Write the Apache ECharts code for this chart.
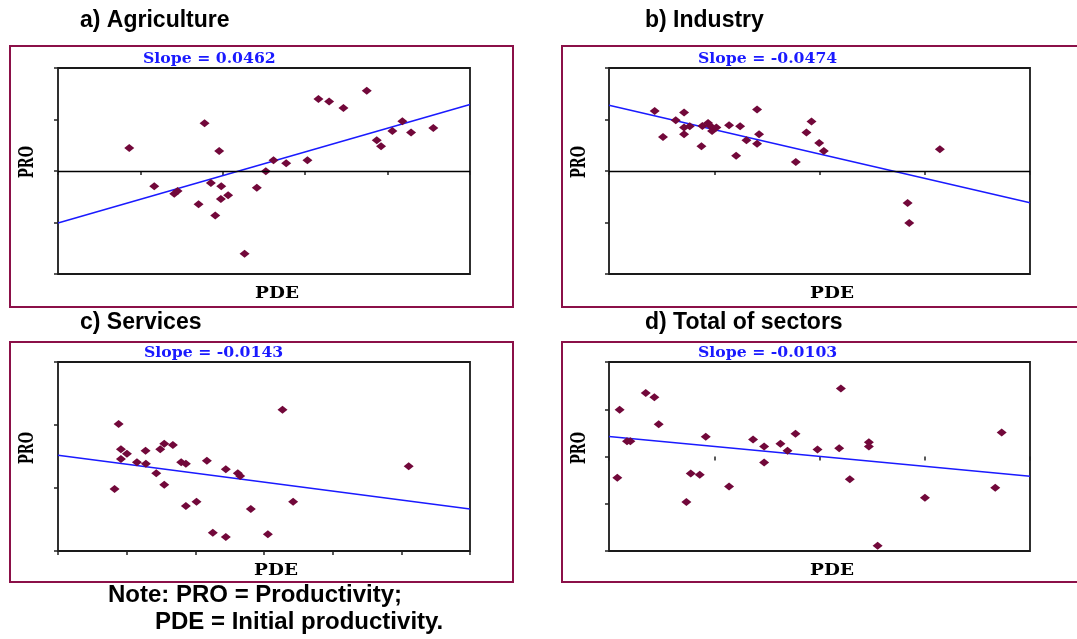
<!DOCTYPE html>
<html>
<head>
<meta charset="utf-8">
<script src="https://cdn.jsdelivr.net/npm/echarts@6/dist/echarts.min.js"></script>
<style>
html,body{margin:0;padding:0;background:#fff;}
#chart{width:1077px;height:639px;}
</style>
</head>
<body>
<div id="chart"></div>
<script>
// ---- Data (arbitrary axis units, no tick labels in the source) ----
const panelTitles = ['a) Agriculture', 'b) Industry', 'c) Services', 'd) Total of sectors'];
const slopeLabels = ['Slope = 0.0462', 'Slope = -0.0474', 'Slope = -0.0143', 'Slope = -0.0103'];
const noteLines = ['Note: PRO = Productivity;', 'PDE = Initial productivity.'];

// a) Agriculture
const agriPDE = [0.865,1.168,1.411,1.451,1.706,1.779,1.855,1.908,1.956,1.981,1.977,2.065,2.264,2.413,2.522,2.615,2.769,3.027,3.161,3.290,3.464,3.747,3.868,3.921,4.058,4.179,4.285,4.555];
const agriPRO = [0.447,-0.298,-0.441,-0.389,-0.648,0.927,-0.233,-0.862,0.389,-0.298,-0.545,-0.473,-1.608,-0.324,-0.006,0.207,0.149,0.207,1.400,1.348,1.225,1.556,0.596,0.480,0.778,0.966,0.746,0.836];
const agriTrendX = [0, 5];
const agriTrendY = [-1.011, 1.290];

// b) Industry
const indPDE = [0.434,0.513,0.634,0.713,0.713,0.713,0.767,0.878,0.887,0.941,0.957,0.979,1.020,1.141,1.208,1.246,1.306,1.407,1.407,1.426,1.775,1.876,1.924,1.997,2.041,2.837,2.853,3.144];
const indPRO = [1.167,0.661,0.985,1.134,0.843,0.713,0.869,0.480,0.875,0.934,0.882,0.778,0.843,0.888,0.298,0.869,0.596,1.193,0.531,0.713,0.175,0.746,0.960,0.545,0.389,-0.622,-1.011,0.421];
const indTrendX = [0, 4];
const indTrendY = [1.277, -0.616];

// c) Services
const servPDE = [0.824,0.883,0.917,0.917,1.004,1.150,1.275,1.280,1.431,1.489,1.547,1.547,1.673,1.794,1.862,1.862,2.017,2.168,2.255,2.444,2.444,2.619,2.653,2.808,3.056,3.269,3.424,5.107];
const servPRO = [0.984,2.016,1.614,1.460,1.545,1.407,1.593,1.386,1.233,1.614,1.704,1.053,1.683,1.407,1.386,0.714,0.783,1.434,0.291,1.296,0.222,1.233,1.190,0.667,0.265,2.243,0.783,1.344];
const servTrendX = [0, 6];
const servTrendY = [1.519, 0.667];

// d) Total of sectors
const totPDE = [0.079,0.101,0.171,0.203,0.349,0.431,0.472,0.735,0.777,0.862,0.919,1.141,1.369,1.474,1.474,1.629,1.696,1.772,1.981,2.187,2.203,2.288,2.469,2.469,2.552,3.002,3.670,3.731];
const totPRO = [-0.452,0.988,0.325,0.325,1.346,1.255,0.684,-0.963,-0.360,-0.388,0.416,-0.635,0.360,0.212,-0.127,0.268,0.120,0.480,0.148,0.176,1.439,-0.480,0.303,0.212,-1.891,-0.875,-0.663,0.508];
const totTrendX = [0, 4];
const totTrendY = [0.423, -0.416];

// axis extents per panel
const xMin = [0, 0, 0, 0];
const xMax = [5, 4, 6, 4];
const yMin = [-2, -2, 0, -2];
const yMax = [2, 2, 3, 2];
const showZeroLine = [true, true, false, false];

// ---- Layout ----
const grids = [
  {left: 58,  top: 68,  width: 412, height: 206},
  {left: 609, top: 68,  width: 421, height: 206},
  {left: 58,  top: 362, width: 412, height: 189},
  {left: 609, top: 362, width: 421, height: 189}
];
const boxes = [
  {x: 10,  y: 46,  w: 503, h: 261},
  {x: 562, y: 46,  w: 540, h: 261},
  {x: 10,  y: 342, w: 503, h: 240},
  {x: 562, y: 342, w: 540, h: 240}
];
const titlePos = [[80, 21], [645, 21], [80, 323], [645, 323]];
const slopePos = [[143, 59], [698, 59], [144, 353], [698, 353]];
const proPos = [[28, 162], [580, 162], [28, 448], [580, 448]];
const pdePos = [[277, 294], [832, 294], [276, 571], [832, 571]];

const pdeSets = [agriPDE, indPDE, servPDE, totPDE];
const proSets = [agriPRO, indPRO, servPRO, totPRO];
const trendXs = [agriTrendX, indTrendX, servTrendX, totTrendX];
const trendYs = [agriTrendY, indTrendY, servTrendY, totTrendY];

const pairs = (xs, ys) => xs.map((x, i) => [x, ys[i]]);

const option = {
  animation: false,
  backgroundColor: '#ffffff',
  grid: grids.map(g => Object.assign({show: true, borderColor: '#1a1a1a', borderWidth: 1.8, backgroundColor: 'transparent'}, g)),
  xAxis: grids.map((g, i) => ({
    gridIndex: i, type: 'value', min: xMin[i], max: xMax[i], interval: 1,
    axisLine: {show: false},
    axisTick: {show: true, length: 4, lineStyle: {color: '#222', width: 1.5}},
    axisLabel: {show: false}, splitLine: {show: false}
  })),
  yAxis: grids.map((g, i) => ({
    gridIndex: i, type: 'value', min: yMin[i], max: yMax[i], interval: 1,
    axisLine: {show: false},
    axisTick: {show: true, length: 4, lineStyle: {color: '#222', width: 1.5}},
    axisLabel: {show: false}, splitLine: {show: false}
  })),
  series: [],
  graphic: []
};

for (let i = 0; i < 4; i++) {
  option.series.push({
    type: 'line', xAxisIndex: i, yAxisIndex: i,
    data: pairs(trendXs[i], trendYs[i]),
    symbol: 'none', silent: true, z: 3,
    lineStyle: {color: '#1a1aff', width: 1.5},
    markLine: showZeroLine[i] ? {
      silent: true, symbol: 'none', label: {show: false},
      lineStyle: {color: '#000', width: 1.3, type: 'solid'},
      data: [{yAxis: 0}]
    } : undefined
  });
  option.series.push({
    type: 'scatter', xAxisIndex: i, yAxisIndex: i,
    data: pairs(pdeSets[i], proSets[i]),
    symbol: 'diamond', symbolSize: [10, 8], z: 4,
    itemStyle: {color: '#72083a', opacity: 1}
  });

  const b = boxes[i];
  option.graphic.push({
    type: 'rect', shape: {x: b.x, y: b.y, width: b.w, height: b.h},
    style: {fill: 'none', stroke: '#8b1048', lineWidth: 2}, silent: true, z: 1
  });
  option.graphic.push({
    type: 'text', x: titlePos[i][0], y: titlePos[i][1],
    style: {text: panelTitles[i], fill: '#000', font: 'bold 23px "Liberation Sans", Arial, sans-serif', textAlign: 'left', textVerticalAlign: 'middle'}
  });
  option.graphic.push({
    type: 'text', x: slopePos[i][0], y: slopePos[i][1], scaleX: 1.12,
    style: {text: slopeLabels[i], fill: '#1a1aff', font: 'bold 14px "DejaVu Serif", serif', textAlign: 'left', textVerticalAlign: 'middle'}
  });
  option.graphic.push({
    type: 'text', x: proPos[i][0], y: proPos[i][1], rotation: Math.PI / 2, scaleY: 1.5,
    style: {text: 'PRO', fill: '#000', font: 'bold 13px "DejaVu Serif", serif', textAlign: 'center', textVerticalAlign: 'middle'}
  });
  option.graphic.push({
    type: 'text', x: pdePos[i][0], y: pdePos[i][1], scaleX: 1.15,
    style: {text: 'PDE', fill: '#000', font: 'bold 16px "DejaVu Serif", serif', textAlign: 'center', textVerticalAlign: 'middle'}
  });
}
option.graphic.push({
  type: 'text', x: 108, y: 595,
  style: {text: noteLines[0], fill: '#000', font: 'bold 24px "Liberation Sans", Arial, sans-serif', textAlign: 'left', textVerticalAlign: 'middle'}
});
option.graphic.push({
  type: 'text', x: 155, y: 622,
  style: {text: noteLines[1], fill: '#000', font: 'bold 24px "Liberation Sans", Arial, sans-serif', textAlign: 'left', textVerticalAlign: 'middle'}
});

const chart = echarts.init(document.getElementById('chart'), null, {renderer: 'canvas'});
chart.setOption(option);
</script>
</body>
</html>
